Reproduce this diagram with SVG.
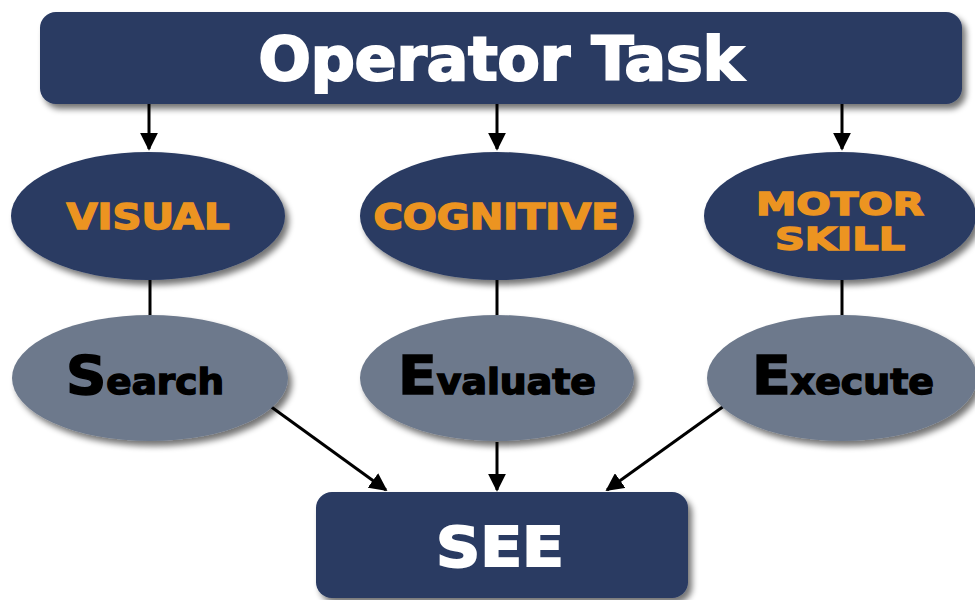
<svg xmlns="http://www.w3.org/2000/svg" width="975" height="600" viewBox="0 0 975 600">
<defs>
<filter id="sh" x="-10%" y="-10%" width="125%" height="130%">
<feGaussianBlur in="SourceAlpha" stdDeviation="3"/>
<feOffset dx="4" dy="5" result="b"/>
<feComponentTransfer><feFuncA type="linear" slope="0.55"/></feComponentTransfer>
<feMerge><feMergeNode/><feMergeNode in="SourceGraphic"/></feMerge>
</filter>
<marker id="ah" viewBox="0 0 10 10" refX="9" refY="5" markerWidth="6" markerHeight="6" orient="auto" markerUnits="strokeWidth">
<path d="M0,0 L10,5 L0,10 z" fill="#000"/>
</marker>
</defs>
<style>
.nav{fill:#293a62;filter:url(#sh)}
.gry{fill:#6d798c;filter:url(#sh)}
.c{stroke:#000;stroke-width:3;fill:none}
.a{marker-end:url(#ah)}
.w{fill:#fff;stroke:#fff;stroke-width:2;font-family:"DejaVu Sans Condensed","DejaVu Sans",sans-serif;font-weight:bold;text-anchor:middle}
.o{fill:#ec9421;stroke:#ec9421;stroke-width:1.5;font-family:"DejaVu Sans","Liberation Sans",sans-serif;font-weight:bold;text-anchor:middle;font-size:36px}
.o2{font-size:32px}
.k{fill:#000;stroke:#000;stroke-width:1.5;font-family:"DejaVu Sans","Liberation Sans",sans-serif;font-weight:bold;text-anchor:middle;font-size:36px}
</style>
<rect width="975" height="600" fill="#fff"/>
<g id="connectors">
<line class="c a" x1="149" y1="104" x2="149" y2="149"/>
<line class="c a" x1="497" y1="104" x2="497" y2="149"/>
<line class="c a" x1="842" y1="104" x2="842" y2="149"/>
<line class="c" x1="150" y1="280" x2="150" y2="315"/>
<line class="c" x1="497" y1="280" x2="497" y2="315"/>
<line class="c" x1="842" y1="280" x2="842" y2="315"/>
<line class="c a" x1="270" y1="406" x2="386" y2="490"/>
<line class="c a" x1="497" y1="442" x2="497" y2="490"/>
<line class="c a" x1="724" y1="406" x2="607" y2="490"/>
</g>
<g id="operator-task">
<rect class="nav" x="40" y="12" width="922" height="92" rx="16"/>
<text class="w" x="501" y="80" font-size="60" textLength="485" lengthAdjust="spacingAndGlyphs">Operator Task</text>
</g>
<g id="visual">
<ellipse class="nav" cx="148" cy="216" rx="137" ry="64"/>
<text class="o" x="148" y="229" textLength="163" lengthAdjust="spacingAndGlyphs">VISUAL</text>
</g>
<g id="cognitive">
<ellipse class="nav" cx="497" cy="216" rx="137" ry="64"/>
<text class="o" x="496" y="229" textLength="245" lengthAdjust="spacingAndGlyphs">COGNITIVE</text>
</g>
<g id="motor-skill">
<ellipse class="nav" cx="840" cy="216" rx="136" ry="64"/>
<text class="o o2" x="840" y="215" textLength="168" lengthAdjust="spacingAndGlyphs">MOTOR</text>
<text class="o o2" x="840" y="250" textLength="130" lengthAdjust="spacingAndGlyphs">SKILL</text>
</g>
<g id="search">
<ellipse class="gry" cx="150" cy="378" rx="138" ry="63"/>
<text class="k" x="145" y="394" textLength="158" lengthAdjust="spacingAndGlyphs"><tspan font-size="54">S</tspan>earch</text>
</g>
<g id="evaluate">
<ellipse class="gry" cx="497" cy="378" rx="137" ry="63"/>
<text class="k" x="497" y="394" textLength="198" lengthAdjust="spacingAndGlyphs"><tspan font-size="54">E</tspan>valuate</text>
</g>
<g id="execute">
<ellipse class="gry" cx="842" cy="378" rx="135" ry="63"/>
<text class="k" x="843" y="394" textLength="182" lengthAdjust="spacingAndGlyphs"><tspan font-size="54">E</tspan>xecute</text>
</g>
<g id="see">
<rect class="nav" x="316" y="492" width="372" height="106" rx="16"/>
<text class="w" x="500" y="566" font-size="56" textLength="128" lengthAdjust="spacingAndGlyphs" style="font-family:'DejaVu Sans',sans-serif">SEE</text>
</g>
</svg>
